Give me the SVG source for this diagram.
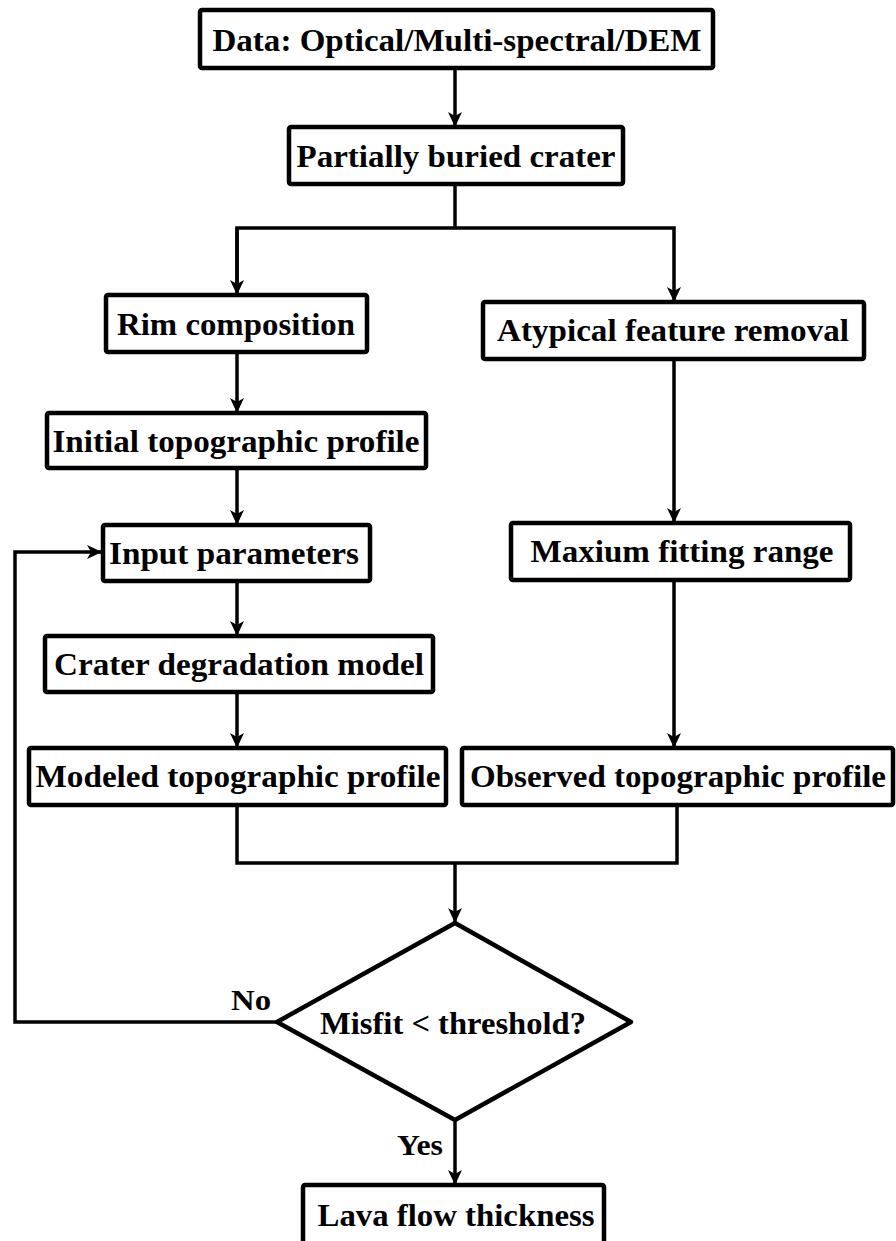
<svg xmlns="http://www.w3.org/2000/svg" width="896" height="1241" viewBox="0 0 896 1241">
<style>
.box{fill:#fff;stroke:#000;stroke-width:4.5;stroke-linejoin:round}
.t{font-family:"Liberation Serif","Times New Roman",serif;font-weight:bold;font-size:32px;fill:#000;text-anchor:middle}
.lbl{font-family:"Liberation Serif","Times New Roman",serif;font-weight:bold;font-size:30px;fill:#000}
.c{fill:none;stroke:#000;stroke-width:3.5;stroke-linejoin:miter}
</style>
<defs>
<marker id="ah" markerUnits="userSpaceOnUse" markerWidth="16" markerHeight="14" refX="14" refY="7" orient="auto">
<path d="M0,0 L15,7 L0,14 L4,7 z" fill="#000"/>
</marker>
</defs>
<rect width="896" height="1241" fill="#fff"/>
<g id="connectors">
<line class="c" x1="455" y1="68" x2="455" y2="126" marker-end="url(#ah)"/>
<polyline class="c" points="455,184 455,228"/>
<polyline class="c" points="237,294 237,228 674,228 674,301" marker-end="url(#ah)"/>
<line class="c" x1="237" y1="228" x2="237" y2="294" marker-end="url(#ah)"/>
<line class="c" x1="237" y1="352" x2="237" y2="412" marker-end="url(#ah)"/>
<line class="c" x1="237" y1="468" x2="237" y2="524" marker-end="url(#ah)"/>
<line class="c" x1="674" y1="359" x2="674" y2="522" marker-end="url(#ah)"/>
<line class="c" x1="237" y1="581" x2="237" y2="635" marker-end="url(#ah)"/>
<line class="c" x1="674" y1="580" x2="674" y2="747" marker-end="url(#ah)"/>
<line class="c" x1="237" y1="692" x2="237" y2="747" marker-end="url(#ah)"/>
<polyline class="c" points="237,805 237,863 677,863 677,805"/>
<line class="c" x1="455" y1="863" x2="455" y2="922" marker-end="url(#ah)"/>
<polyline class="c" points="277,1022 15,1022 15,552 101,552" marker-end="url(#ah)"/>
<line class="c" x1="455" y1="1120" x2="455" y2="1184" marker-end="url(#ah)"/>
</g>
<g id="n1"><rect class="box" x="200" y="10" width="513" height="58" rx="2"/><text class="t" x="457" y="51" textLength="489" lengthAdjust="spacingAndGlyphs">Data: Optical/Multi-spectral/DEM</text></g>
<g id="n2"><rect class="box" x="289" y="127" width="334" height="57" rx="2"/><text class="t" x="456" y="167" textLength="319" lengthAdjust="spacingAndGlyphs">Partially buried crater</text></g>
<g id="n3"><rect class="box" x="106" y="295" width="261" height="57" rx="2"/><text class="t" x="236" y="335" textLength="238" lengthAdjust="spacingAndGlyphs">Rim composition</text></g>
<g id="n4"><rect class="box" x="483" y="302" width="381" height="57" rx="2"/><text class="t" x="673" y="341" textLength="352" lengthAdjust="spacingAndGlyphs">Atypical feature removal</text></g>
<g id="n5"><rect class="box" x="47" y="413" width="379" height="55" rx="2"/><text class="t" x="236" y="452" textLength="367" lengthAdjust="spacingAndGlyphs">Initial topographic profile</text></g>
<g id="n6"><rect class="box" x="103" y="525" width="267" height="56" rx="2"/><text class="t" x="234" y="564" textLength="250" lengthAdjust="spacingAndGlyphs">Input parameters</text></g>
<g id="n7"><rect class="box" x="511" y="523" width="339" height="57" rx="2"/><text class="t" x="682" y="562" textLength="303" lengthAdjust="spacingAndGlyphs">Maxium fitting range</text></g>
<g id="n8"><rect class="box" x="45" y="636" width="388" height="56" rx="2"/><text class="t" x="239" y="675" textLength="370" lengthAdjust="spacingAndGlyphs">Crater degradation model</text></g>
<g id="n9"><rect class="box" x="29" y="748" width="417" height="57" rx="2"/><text class="t" x="238" y="787" textLength="405" lengthAdjust="spacingAndGlyphs">Modeled topographic profile</text></g>
<g id="n10"><rect class="box" x="462" y="748" width="431" height="57" rx="2"/><text class="t" x="678" y="787" textLength="416" lengthAdjust="spacingAndGlyphs">Observed topographic profile</text></g>
<g id="n11"><polygon class="box" points="455,923 631,1022 455,1120 277,1022"/><text class="t" x="453" y="1034" textLength="266" lengthAdjust="spacingAndGlyphs">Misfit &lt; threshold?</text></g>
<g id="n12"><rect class="box" x="303" y="1185" width="301" height="62" rx="2"/><text class="t" x="456" y="1226" textLength="277" lengthAdjust="spacingAndGlyphs">Lava flow thickness</text></g>
<g id="labels">
<text class="lbl" x="231" y="1010" textLength="40" lengthAdjust="spacingAndGlyphs">No</text>
<text class="lbl" x="397" y="1155" textLength="46" lengthAdjust="spacingAndGlyphs">Yes</text>
</g>
</svg>
